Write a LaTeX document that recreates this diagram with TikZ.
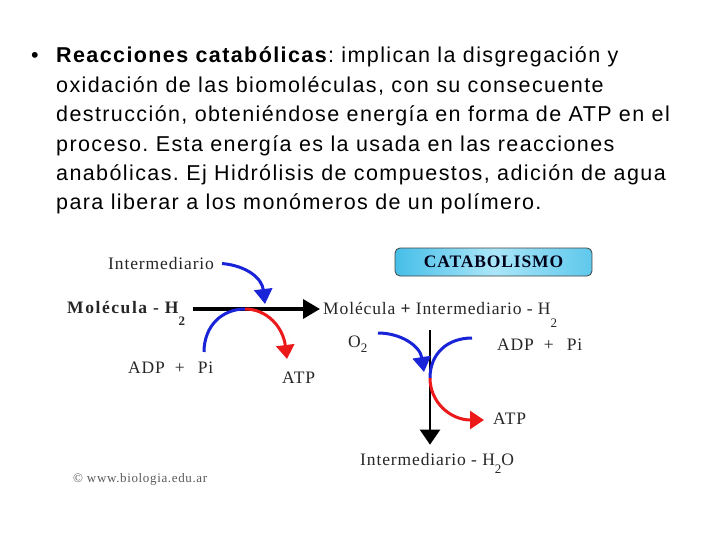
\documentclass[tikz,border=0pt]{standalone}
\usepackage{fontspec}
\usepackage{tikz}
\usetikzlibrary{arrows.meta}
\newfontfamily\bodyfont[LetterSpace=6.5]{Liberation Sans}
\newfontfamily\diagfont[LetterSpace=5]{Liberation Serif}
\newfontfamily\diagbold[LetterSpace=9]{Liberation Serif}
\newcommand{\lowtwo}[1]{\raisebox{-#1pt}{\fontsize{13}{13}\selectfont 2}}
\definecolor{arcblue}{RGB}{25,35,215}
\definecolor{arcred}{RGB}{235,25,25}
\definecolor{boxleft}{RGB}{70,190,232}
\definecolor{boxmid}{RGB}{170,230,248}
\definecolor{boxright}{RGB}{95,200,236}
\frenchspacing

\begin{document}
\begin{tikzpicture}[x=1pt,y=-1pt,
  bodytext/.style={anchor=base west,inner sep=0pt,font=\bodyfont\fontsize{21.5}{29}\selectfont},
  lbl/.style={anchor=base west,inner sep=3pt,text=black!85,font=\diagfont\fontsize{17.5}{19}\selectfont},
  mainarrow/.style={line width=3.5pt,-{Triangle[length=17pt,width=19pt]}},
  bluearc/.style={line width=3pt,arcblue},
  redarc/.style={line width=3pt,arcred,-{Triangle[length=14pt,width=18pt]}},
  bluetip/.style={bluearc,-{Triangle[length=15pt,width=18pt]}},
  catbox/.style={draw=black!75,line width=0.8pt,rounded corners=5pt,
    left color=boxleft,right color=boxright,middle color=boxmid,
    minimum width=197pt,minimum height=28pt,inner sep=0pt,
    text=black!90!blue,font=\diagfont\bfseries\fontsize{17.5}{19}\selectfont}]
  \useasboundingbox (0,0) rectangle (720,540);
  %
  % Bullet text
  \node[bodytext] (bullet) at (31,63) {•};
  \node[bodytext] (l1) at (56,63) {\textbf{Reacciones catabólicas}: implican la disgregación y};
  \node[bodytext] (l2) at (56,92.4) {oxidación de las biomoléculas, con su consecuente};
  \node[bodytext] (l3) at (56,121.8) {destrucción, obteniéndose energía en forma de ATP en el};
  \node[bodytext] (l4) at (56,151.2) {proceso. Esta energía es la usada en las reacciones};
  \node[bodytext] (l5) at (56,180.6) {anabólicas. Ej Hidrólisis de compuestos, adición de agua};
  \node[bodytext] (l6) at (56,210) {para liberar a los monómeros de un polímero.};
  %
  % Title box
  \node[catbox] (cat) at (493.5,262) {CATABOLISMO};
  %
  % Labels, first step
  \node[lbl] (int1) at (105,269) {Intermediario};
  \node[lbl,font=\diagbold\bfseries\fontsize{17.5}{19}\selectfont] (mol1) at (64,313) {Molécula - H\lowtwo{12}};
  \node[lbl] (adp1) at (125,373) {ADP\hspace{10pt}+\hspace{13pt}Pi};
  \node[lbl] (atp1) at (279,383) {ATP};
  %
  % Labels, second step
  \node[lbl] (mol2) at (320,314) {Molécula {\bfseries +} Intermediario - H\lowtwo{13}};
  \node[lbl] (o2) at (345,347) {O\lowtwo{5}};
  \node[lbl] (adp2) at (494,350) {ADP\hspace{10pt}+\hspace{13pt}Pi};
  \node[lbl] (atp2) at (490,424) {ATP};
  \node[lbl] (int2) at (357,465) {Intermediario - H\lowtwo{8}O};
  %
  % Main arrows
  \draw[mainarrow,shorten <=5pt] (mol1.east |- 0,309) -- (mol2.west |- 0,309);
  \draw[mainarrow,line width=2.5pt,-{Triangle[length=15pt,width=20pt]},shorten >=5pt]
    (430,0 |- mol2.south) -- (430,0 |- int2.north);
  %
  % Curved arrows, first step
  \coordinate (p1) at (204,352);
  \coordinate (t1) at (245,309);
  \draw[bluetip,shorten <=5pt] (int1.east) .. controls (248,266) and (262,279) .. (265,304);
  \draw[bluearc] (p1) .. controls (204,326) and (222,309) .. (t1);
  \draw[redarc] (t1) .. controls (267,309) and (283,327) .. (287,359);
  %
  % Curved arrows, second step
  \coordinate (q0) at (378,333);
  \coordinate (q1) at (472,338);
  \coordinate (t2) at (430,378);
  \draw[bluetip] (q0) .. controls (401,333) and (420,346) .. (424,372);
  \draw[bluearc] (q1) .. controls (448,338) and (430,353) .. (t2);
  \draw[redarc] (t2) .. controls (430,402) and (450,420) .. (484,420);
  %
  % Source
  \node[lbl,text=black!65,font=\diagfont\fontsize{13}{14}\selectfont] (src) at (70,482) {© www.biologia.edu.ar};
\end{tikzpicture}
\end{document}
